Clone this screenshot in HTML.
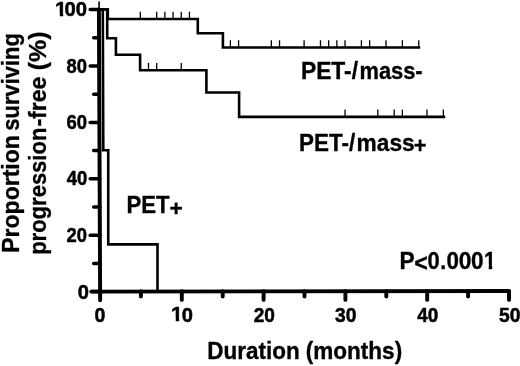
<!DOCTYPE html>
<html><head><meta charset="utf-8"><title>Progression-free survival</title>
<style>
html,body{margin:0;padding:0;background:#fff;}
body{width:520px;height:366px;overflow:hidden;font-family:"Liberation Sans",sans-serif;}
svg{display:block;position:absolute;left:0;top:0;filter:grayscale(1);}
text{font-family:"Liberation Sans",sans-serif;font-weight:bold;fill:#000;stroke:#000;stroke-linejoin:round;}
.ax{stroke:#000;stroke-width:3.95;stroke-linecap:round;fill:none;}
.tk{stroke:#000;stroke-width:3.5;stroke-linecap:round;fill:none;}
.tx{stroke:#000;stroke-width:3.9;stroke-linecap:round;fill:none;}
.cv{stroke:#000;stroke-width:2.6;fill:none;stroke-linejoin:miter;stroke-linecap:butt;}
.cn{stroke:#000;stroke-width:1.3;fill:none;}
</style></head><body>
<svg width="520" height="366" viewBox="0 0 520 366">
<defs><clipPath id="c1"><path d="M-20 -120H120V-16.6H38.2V5H22.2V-16.6H-20Z"/></clipPath></defs>
<rect width="520" height="366" fill="#fff"/>
<path class="ax" d="M98.92 9.5L100.15 300.3"/>
<path class="ax" d="M91.4 291.6L509 291.0"/>
<path class="tk" d="M91.4 291.6H100.15"/>
<path class="tk" d="M93.7 263.4H100.03"/>
<path class="tk" d="M90.2 235.2H99.9"/>
<path class="tk" d="M93.7 207.0H99.78"/>
<path class="tk" d="M90.2 178.8H99.66"/>
<path class="tk" d="M93.7 150.6H99.54"/>
<path class="tk" d="M90.2 122.4H99.41"/>
<path class="tk" d="M93.7 94.2H99.29"/>
<path class="tk" d="M90.2 66.0H99.17"/>
<path class="tk" d="M93.7 37.8H99.04"/>
<path class="tk" d="M90.2 9.6H98.92"/>
<path class="tx" d="M140.9 291.2V296.6"/>
<path class="tx" d="M181.8 291.2V299.9"/>
<path class="tx" d="M222.7 291.2V296.6"/>
<path class="tx" d="M263.6 291.2V299.9"/>
<path class="tx" d="M304.5 291.2V296.6"/>
<path class="tx" d="M345.4 291.2V299.9"/>
<path class="tx" d="M386.3 291.2V296.6"/>
<path class="tx" d="M427.2 291.2V299.9"/>
<path class="tx" d="M468.1 291.2V296.6"/>
<path class="tx" d="M509.0 291.2V299.9"/>
<path class="cv" d="M99 9.5H102.8L103.3 150.2H108.25V244.4H157.5V291.5"/>
<path class="cv" d="M99 9.4H107.8V19H197.8V33.3H222.9V47.5H420.2"/>
<path class="cv" d="M99 9.4H107.2V38.2H115.9V54.7H140.1V70.2H206.4V92.5H239.1V116.9H445.2"/>
<path class="cn" style="stroke-width:1.6" d="M99.1 9.5V1.4"/>
<path class="cn" d="M140.3 19V11.7"/>
<path class="cn" d="M156.68 19V11.7"/>
<path class="cn" d="M164.87 19V11.7"/>
<path class="cn" d="M173.06 19V11.7"/>
<path class="cn" d="M181.25 19V11.7"/>
<path class="cn" d="M189.44 19V11.7"/>
<path class="cn" d="M230.39 47.5V40.2"/>
<path class="cn" d="M238.58 47.5V40.2"/>
<path class="cn" d="M271.34 47.5V40.2"/>
<path class="cn" d="M279.53 47.5V40.2"/>
<path class="cn" d="M304.1 47.5V40.2"/>
<path class="cn" d="M320.48 47.5V40.2"/>
<path class="cn" d="M328.67 47.5V40.2"/>
<path class="cn" d="M336.86 47.5V40.2"/>
<path class="cn" d="M345.05 47.5V40.2"/>
<path class="cn" d="M361.43 47.5V40.2"/>
<path class="cn" d="M369.62 47.5V40.2"/>
<path class="cn" d="M386.0 47.5V40.2"/>
<path class="cn" d="M402.38 47.5V40.2"/>
<path class="cn" d="M418.76 47.5V40.2"/>
<path class="cn" d="M148.49 70.2V62.9"/>
<path class="cn" d="M156.68 70.2V62.9"/>
<path class="cn" d="M181.25 70.2V62.9"/>
<path class="cn" d="M345.05 116.9V109.6"/>
<path class="cn" d="M377.81 116.9V109.6"/>
<path class="cn" d="M394.19 116.9V109.6"/>
<path class="cn" d="M402.38 116.9V109.6"/>
<path class="cn" d="M426.95 116.9V109.6"/>
<path class="cn" d="M443.33 116.9V109.6"/>
<text transform="translate(300.90 78.70) scale(0.2286 0.2440)" font-size="100" stroke-width="1.43">PET-/</text>
<text transform="translate(359.45 78.70) scale(0.2187 0.2440)" font-size="100" stroke-width="1.43">mass-</text>
<text transform="translate(299.02 150.80) scale(0.2249 0.2440)" font-size="100" stroke-width="1.43">PET-/</text>
<text transform="translate(356.60 150.80) scale(0.2273 0.2440)" font-size="100" stroke-width="1.43">mass</text>
<text transform="translate(413.84 152.94) scale(0.2177 0.2143)" font-size="100" stroke-width="1.43">+</text>
<text transform="translate(126.54 213.40) scale(0.2216 0.2440)" font-size="100" stroke-width="1.43">PET</text>
<text transform="translate(169.60 215.53) scale(0.2273 0.2276)" font-size="100" stroke-width="1.43">+</text>
<text transform="translate(399.41 268.90) scale(0.2266 0.2440)" font-size="100" stroke-width="1.43">P</text>
<text transform="translate(414.29 271.02) scale(0.2314 0.2445)" font-size="100" stroke-width="1.43">&lt;</text>
<text transform="translate(427.58 269.10) scale(0.2197 0.2440)" font-size="100" stroke-width="1.43">0</text>
<text transform="translate(440.18 268.75) scale(0.2118 0.2440)" font-size="100" stroke-width="1.43">.</text>
<text transform="translate(446.47 269.10) scale(0.2238 0.2440)" font-size="100" stroke-width="1.43">0</text>
<text transform="translate(458.75 269.10) scale(0.2279 0.2440)" font-size="100" stroke-width="1.43">0</text>
<text transform="translate(471.06 269.10) scale(0.2259 0.2440)" font-size="100" stroke-width="1.43">0</text>
<text transform="translate(484.04 268.75) scale(0.2125 0.2440)" font-size="100" stroke-width="1.43" clip-path="url(#c1)">1</text>
<text transform="translate(207.32 359.40) scale(0.2249 0.2440)" font-size="100" stroke-width="1.43">Duration</text>
<text transform="translate(305.82 359.40) scale(0.2254 0.2440)" font-size="100" stroke-width="1.43">(months)</text>
<text transform="translate(18.8 252.81) rotate(-90) scale(0.2304 0.2440)" font-size="100" stroke-width="1.43">Proportion</text>
<text transform="translate(18.8 130.67) rotate(-90) scale(0.2194 0.2440)" font-size="100" stroke-width="1.43">surviving</text>
<text transform="translate(46.0 254.86) rotate(-90) scale(0.2203 0.2440)" font-size="100" stroke-width="1.43">progression</text>
<text transform="translate(46.0 126.60) rotate(-90) scale(0.2301 0.2440)" font-size="100" stroke-width="1.43">-free</text>
<text transform="translate(45.8 70.23) rotate(-90) scale(0.2497 0.2380)" font-size="100" stroke-width="1.26" font-weight="normal">(%)</text>
<text transform="translate(55.06 16.15) scale(0.2125 0.2070)" font-size="100" stroke-width="2.42" clip-path="url(#c1)">1</text>
<text transform="translate(64.61 16.18) scale(0.2021 0.2070)" font-size="100" stroke-width="2.42">00</text>
<text transform="translate(66.58 72.58) scale(0.1839 0.2070)" font-size="100" stroke-width="2.42">80</text>
<text transform="translate(66.52 128.98) scale(0.1845 0.2070)" font-size="100" stroke-width="2.42">60</text>
<text transform="translate(66.78 185.35) scale(0.1848 0.2070)" font-size="100" stroke-width="2.42">40</text>
<text transform="translate(66.58 241.75) scale(0.1840 0.2070)" font-size="100" stroke-width="2.42">20</text>
<text transform="translate(77.81 298.50) scale(0.2012 0.2070)" font-size="100" stroke-width="2.42">0</text>
<text transform="translate(94.52 321.70) scale(0.1952 0.2070)" font-size="100" stroke-width="2.42">0</text>
<text transform="translate(171.06 321.45) scale(0.2125 0.2070)" font-size="100" stroke-width="2.42" clip-path="url(#c1)">1</text>
<text transform="translate(181.81 321.70) scale(0.2012 0.2070)" font-size="100" stroke-width="2.42">0</text>
<text transform="translate(253.66 321.65) scale(0.1905 0.2070)" font-size="100" stroke-width="2.42">20</text>
<text transform="translate(335.04 321.68) scale(0.1926 0.2070)" font-size="100" stroke-width="2.42">30</text>
<text transform="translate(417.18 321.65) scale(0.1886 0.2070)" font-size="100" stroke-width="2.42">40</text>
<text transform="translate(498.92 321.68) scale(0.1928 0.2070)" font-size="100" stroke-width="2.42">50</text>
</svg>
</body></html>
